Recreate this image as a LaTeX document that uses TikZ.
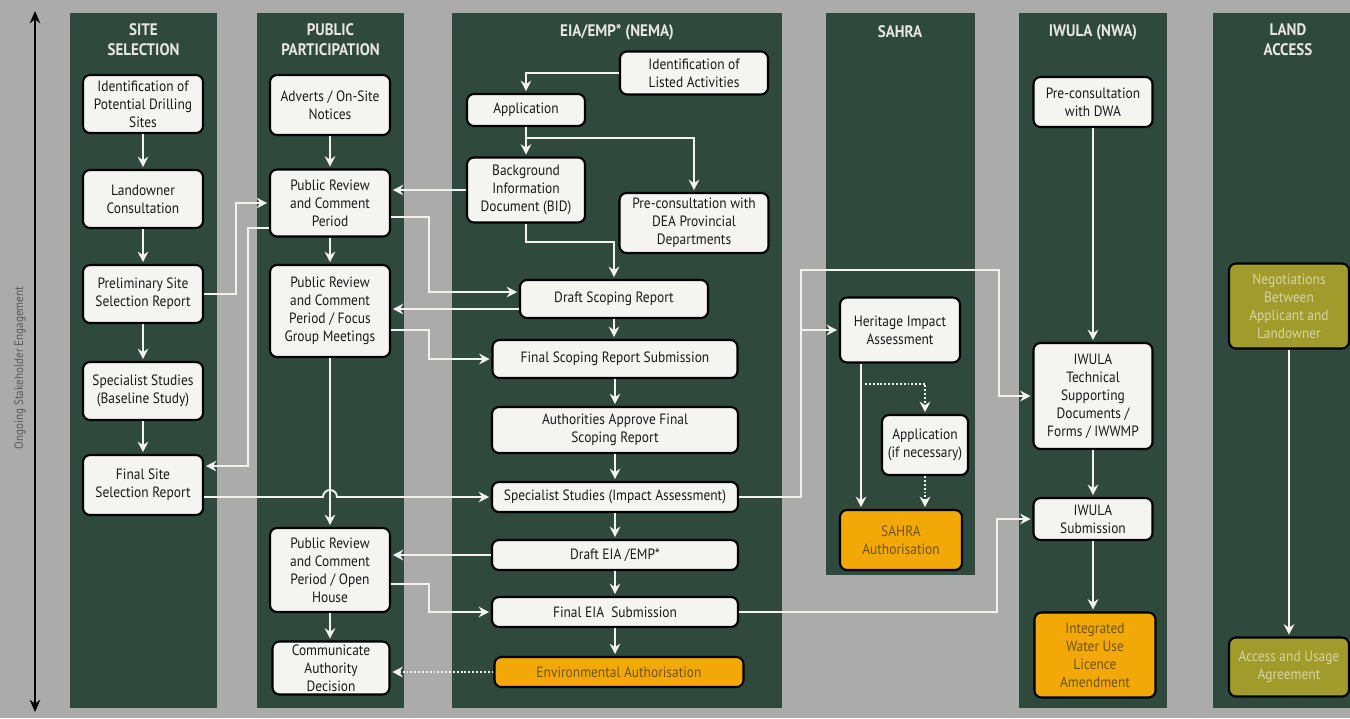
\documentclass[tikz,border=0pt]{standalone}
\usepackage{fontspec}
\setmainfont{PT Sans}[FakeStretch=0.9]
\usetikzlibrary{calc,arrows.meta}
\definecolor{paper}{HTML}{ABABAB}
\definecolor{lanegreen}{HTML}{2F493D}
\definecolor{titlegrey}{HTML}{E6E6E2}
\definecolor{boxwhite}{HTML}{F4F4F0}
\definecolor{boxtext}{HTML}{1A1A1A}
\definecolor{authorange}{HTML}{F2A807}
\definecolor{authtext}{HTML}{6E5612}
\definecolor{landolive}{HTML}{A09B2A}
\definecolor{landtext}{HTML}{D8D3A6}
\definecolor{linkwhite}{HTML}{F2F2EE}
\tikzset{
  lane/.style={fill=lanegreen},
  lanetitle/.style={text=titlegrey, font=\fontsize{9.5}{11.3}\selectfont\bfseries, align=center},
  box/.style={draw=black, line width=1.2pt, fill=boxwhite, text=boxtext, rounded corners=4pt,
    align=center, inner sep=1pt, font=\fontsize{8.5}{10.2}\selectfont},
  authbox/.style={box, fill=authorange, text=authtext},
  landbox/.style={box, fill=landolive, text=landtext},
  link/.style={draw=linkwhite, line width=1.1pt, shorten >=1pt, -{Stealth[length=6pt,width=6pt]}},
  dotlink/.style={link, dash pattern=on 1.1pt off 1.1pt},
  axis/.style={draw=black, line width=0.9pt, {Stealth[length=7pt,width=6pt]}-{Stealth[length=7pt,width=6pt]}},
  axislabel/.style={text=black!65, font=\fontsize{7}{8}\selectfont},
}
\begin{document}
\begin{tikzpicture}[x=0.02cm,y=-0.02cm]
  \useasboundingbox (0,0) rectangle (1350,718);
  \fill[paper] (0,0) rectangle (1350,718);

  % lanes
  \fill[lane] (70,13) rectangle (217,708);
  \fill[lane] (257,13) rectangle (404,708);
  \fill[lane] (452,13) rectangle (782,708);
  \fill[lane] (826,13) rectangle (975,575);
  \fill[lane] (1019,13) rectangle (1167,708);
  \fill[lane] (1213,13) rectangle (1350,708);

  \node[lanetitle] (t1) at (143.5,40) {SITE\\SELECTION};
  \node[lanetitle] (t2) at (330.5,40) {PUBLIC\\PARTICIPATION};
  \node[lanetitle] (t3) at (617,32) {EIA/EMP* (NEMA)};
  \node[lanetitle] (t4) at (900,32) {SAHRA};
  \node[lanetitle] (t5) at (1093,32) {IWULA (NWA)};
  \node[lanetitle] (t6) at (1288,40) {LAND\\ACCESS};

  % stakeholder axis
  \coordinate (axtop) at (35,11);
  \coordinate (axbot) at (35,712);
  \draw[axis] (axbot) -- (axtop);
  \node[axislabel, rotate=90] (axlab) at (20,368) {Ongoing Stakeholder Engagement};

  % site selection
  \node[box, minimum width=2.4cm, minimum height=1.16cm] (b1) at (143,104) {Identification of\\Potential Drilling\\Sites};
  \node[box, minimum width=2.4cm, minimum height=1.16cm] (b2) at (143,199) {Landowner\\Consultation};
  \node[box, minimum width=2.4cm, minimum height=1.16cm] (b3) at (143,294) {Preliminary Site\\Selection Report};
  \node[box, minimum width=2.4cm, minimum height=1.16cm] (b4) at (143,391) {Specialist Studies\\(Baseline Study)};
  \node[box, minimum width=2.4cm, minimum height=1.2cm] (b5) at (143,485) {Final Site\\Selection Report};

  % public participation
  \node[box, minimum width=2.4cm, minimum height=1.2cm] (p1) at (330,105) {Adverts / On-Site\\Notices};
  \node[box, minimum width=2.4cm, minimum height=1.34cm] (p2) at (330,203) {Public Review\\and Comment\\Period};
  \node[box, minimum width=2.4cm, minimum height=1.84cm] (p3) at (330,311) {Public Review\\and Comment\\Period / Focus\\Group Meetings};
  \node[box, minimum width=2.4cm, minimum height=1.68cm] (p4) at (330,570) {Public Review\\and Comment\\Period / Open\\House};
  \node[box, minimum width=2.34cm, minimum height=1.06cm] (p5) at (331,668) {Communicate\\Authority\\Decision};

  % EIA / EMP
  \node[box, minimum width=2.96cm, minimum height=0.86cm] (e0) at (694,73) {Identification of\\Listed Activities};
  \node[box, minimum width=2.36cm, minimum height=0.64cm] (e1) at (526,110) {Application};
  \node[box, minimum width=2.36cm, minimum height=1.3cm] (e2) at (526,190) {Background\\Information\\Document (BID)};
  \node[box, minimum width=2.98cm, minimum height=1.2cm] (e3) at (694,223) {Pre-consultation with\\DEA Provincial\\Departments};
  \node[box, minimum width=3.76cm, minimum height=0.76cm] (e4) at (614,299) {Draft Scoping Report};
  \node[box, minimum width=4.9cm, minimum height=0.76cm] (e5) at (615,359) {Final Scoping Report Submission};
  \node[box, minimum width=4.92cm, minimum height=0.92cm] (e6) at (615,430) {Authorities Approve Final\\Scoping Report};
  \node[box, minimum width=4.92cm, minimum height=0.6cm] (e7) at (615,497) {Specialist Studies (Impact Assessment)};
  \node[box, minimum width=4.92cm, minimum height=0.6cm] (e8) at (615,555) {Draft EIA /EMP*};
  \node[box, minimum width=4.92cm, minimum height=0.6cm] (e9) at (615,612) {Final EIA\ \ Submission};
  \node[authbox, minimum width=4.98cm, minimum height=0.6cm] (e10) at (619,672) {Environmental Authorisation};

  % SAHRA
  \node[box, minimum width=2.4cm, minimum height=1.3cm] (s1) at (900,330) {Heritage Impact\\Assessment};
  \node[box, minimum width=1.72cm, minimum height=1.2cm] (s2) at (925,445) {Application\\(if necessary)};
  \node[authbox, minimum width=2.44cm, minimum height=1.2cm] (s3) at (901,540) {SAHRA\\Authorisation};

  % IWULA
  \node[box, minimum width=2.38cm, minimum height=1.0cm] (i1) at (1093,102) {Pre-consultation\\with DWA};
  \node[box, minimum width=2.38cm, minimum height=2.12cm] (i2) at (1093,396) {IWULA\\Technical\\Supporting\\Documents /\\Forms / IWWMP};
  \node[box, minimum width=2.38cm, minimum height=0.84cm] (i3) at (1093,519) {IWULA\\Submission};
  \node[authbox, minimum width=2.42cm, minimum height=1.7cm] (i4) at (1095,655) {Integrated\\Water Use\\Licence\\Amendment};

  % land access
  \node[landbox, minimum width=2.4cm, minimum height=1.7cm] (l1) at (1289,306) {Negotiations\\Between\\Applicant and\\Landowner};
  \node[landbox, minimum width=2.4cm, minimum height=1.18cm] (l2) at (1289,667) {Access and Usage\\Agreement};

  % flow down each lane
  \foreach \a/\b in {b1/b2,b2/b3,b3/b4,b4/b5,p1/p2,p2/p3,p3/p4,p4/p5,
                     e4/e5,e5/e6,e6/e7,e7/e8,e8/e9,e9/e10,i1/i2,i2/i3,i3/i4,l1/l2}
    \draw[link] (\a.south) -- (\a.south |- \b.north);
  \draw[link] (e0.west) -| (e1.north);
  \draw[link] (e1) -- (e2);
  \draw[link] ([yshift=-0.22cm]e1.south) -| (e3.north);
  \draw[link] (e2.south) -- ++(0,18) -| (e4.north);

  % site selection <-> public participation
  \draw[link] (b3.east) -- ++(32,0) |- (p2.west);
  \draw[link] ([yshift=-0.5cm]p2.west) -- ++(-21,0) |- ([yshift=0.38cm]b5.east);
  \draw[link] ([yshift=-0.24cm]b5.east) -- ([xshift=-0.14cm,yshift=-0.24cm]b5.east -| p3.south)
    arc[start angle=180,end angle=0,radius=0.14cm] -- (e7.west);

  % public participation <-> EIA
  \draw[link] (e2.west) -- (e2.west -| p2.east);
  \draw[link] ([yshift=-0.28cm]p2.east) -- ++(38,0) |- ([yshift=0.14cm]e4.west);
  \draw[link] ([yshift=-0.2cm]e4.west) -- ([yshift=-0.2cm]e4.west -| p3.east);
  \draw[link] ([yshift=-0.38cm]p3.east) -- ++(38,0) |- (e5.west);
  \draw[link] (e8.west) -- (e8.west -| p4.east);
  \draw[link] ([yshift=-0.28cm]p4.east) -- ++(38,0) |- (e9.west);
  \draw[dotlink] (e10.west) -- (e10.west -| p5.east);

  % EIA -> SAHRA / IWULA
  \draw[link] (e7.east) -| ($(s1.west)+(-38,-60)$) -| ($(i2.west)+(-33,0)$) -- (i2.west);
  \draw[link] ($(s1.west)+(-38,0)$) -- (s1.west);
  \draw[link] ([xshift=-0.78cm]s1.south) -- ([xshift=-0.78cm]s1.south |- s3.north);
  \draw[dotlink] ([xshift=-0.7cm,yshift=-0.4cm]s1.south) -| (s2.north);
  \draw[dotlink] (s2.south) -- (s2.south |- s3.north);
  \draw[link] (e9.east) -| ($(i3.west)+(-35,0)$) -- (i3.west);
\end{tikzpicture}
\end{document}
